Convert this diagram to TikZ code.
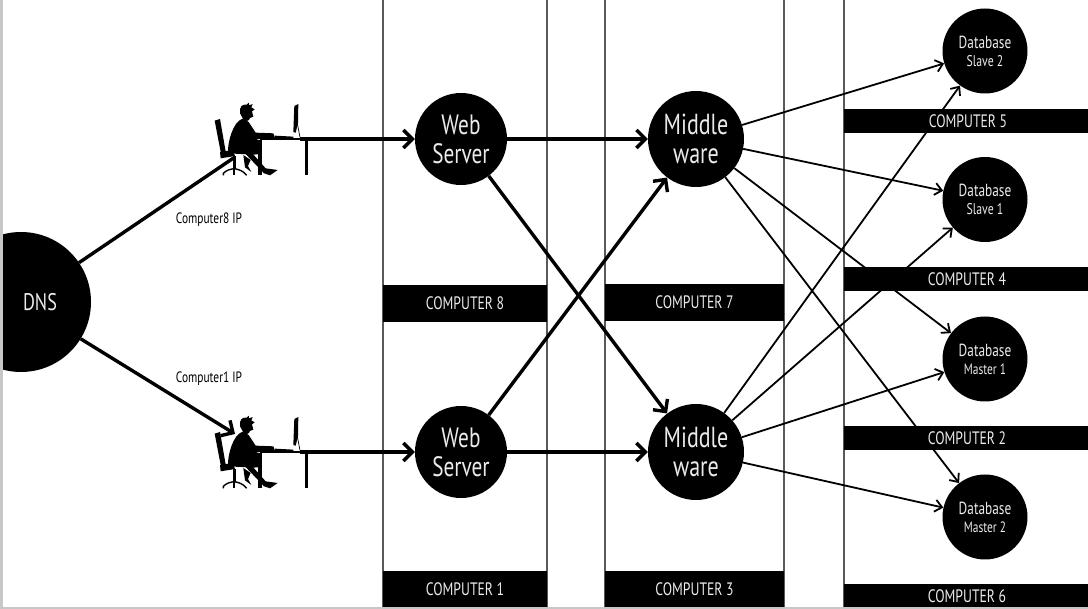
\documentclass[tikz,border=0pt]{standalone}
\usepackage{fontspec}
\setmainfont[FakeStretch=0.76]{PT Sans}
\usetikzlibrary{arrows.meta}
\definecolor{edgegray}{gray}{0.78}
\definecolor{linegray}{gray}{0.35}
\definecolor{softwhite}{gray}{0.92}
\tikzset{
  hub/.style={circle, fill=black, text=softwhite, inner sep=0pt, align=center},
  websrv/.style={hub, minimum size=92pt, font=\fontsize{28}{29}\selectfont},
  midsrv/.style={hub, minimum size=96pt, font=\fontsize{29}{29}\selectfont},
  dbsrv/.style={hub, minimum size=85pt, font=\fontsize{17.5}{18}\selectfont},
  compbar/.style={fill=black, text=softwhite, inner sep=0pt, font=\fontsize{18}{18}\selectfont},
  iplabel/.style={inner sep=0pt, font=\fontsize{15}{15}\selectfont},
  heavy/.style={line width=3.4pt, -{Straight Barb[length=9pt,width=18pt,line width=3.4pt]}},
  light/.style={line width=1.8pt, -{Straight Barb[length=7pt,width=12pt,line width=1.8pt]}},
  person/.pic={
    \begin{scope}[x=0.3333pt,y=-0.3333pt]
      % head and hair
      \fill (150,70) .. controls (148,50) and (156,42) .. (170,44) -- (176,38) -- (178,46) -- (188,42) -- (184,52) -- (194,58)
        -- (186,64) -- (190,80) -- (180,84) .. controls (178,94) and (166,96) .. (160,88) -- cycle;
      % body and arm
      \fill (158,86) -- (176,96) -- (197,128) -- (250,130) -- (256,146) -- (195,148) -- (212,152)
        -- (212,192) -- (190,194) -- (114,190) .. controls (112,160) and (128,95) .. (158,86) -- cycle;
      % legs
      \fill (205,150) -- (215,150) -- (215,255) -- (205,255) -- cycle;
      \fill (165,190) -- (187,190) -- (227,235) -- (263,240) -- (240,256) -- (222,250) -- cycle;
      \fill (160,195) -- (182,210) -- (174,228) -- (184,246) -- (165,232) -- cycle;
      % chair
      \fill (74,92) -- (90,87) -- (108,190) -- (94,196) -- cycle;
      \fill (90,186) -- (128,180) -- (135,198) -- (92,205) -- cycle;
      \fill (128,198) -- (137,198) -- (137,236) -- (128,236) -- cycle;
      \draw[line width=1.4pt] (100,256) -- (100,250) .. controls (110,240) and (120,238) .. (132,236)
        .. controls (145,238) and (160,242) .. (170,256);
      \draw[line width=1.4pt] (132,236) -- (132,256);
      % monitor and keyboard
      \fill (313,48) -- (325,42) -- (324,100) -- (317,128) -- (310,126) -- cycle;
      \draw[line width=0.7pt] (322,100) -- (330,142);
      \fill (255,137) -- (310,140) -- (310,146) -- (255,146) -- cycle;
      % desk
      \fill (210,143) -- (330,143) -- (330,151) -- (210,151) -- cycle;
      \fill (346,147) -- (355,147) -- (355,256) -- (346,256) -- cycle;
    \end{scope}
  }
}
\begin{document}
\begin{tikzpicture}[x=1pt,y=-1pt]
  \useasboundingbox (0,0) rectangle (1088,609);
  \fill[white] (0,0) rectangle (1088,609);

  % column borders
  \foreach \x in {383,547,605,784,844}
    \draw[color=linegray, line width=1.1pt] (\x,0) -- (\x,607);

  % servers
  \node[hub, minimum size=140pt] (dns) at (21,302) {};
  \node[text=softwhite, inner sep=0pt, font=\fontsize{24}{24}\selectfont] (dnstext) at (40,302) {DNS};
  \node[websrv] (web8) at (461,139) {Web\\Server};
  \node[websrv] (web1) at (461,452) {Web\\Server};
  \node[midsrv] (mid7) at (696,139) {Middle\\ware};
  \node[midsrv] (mid3) at (696,452) {Middle\\ware};
  \node[dbsrv] (slave2) at (985,51) {Database\\{\fontsize{15.5}{17}\selectfont Slave 2}};
  \node[dbsrv] (slave1) at (985,199.5) {Database\\{\fontsize{15.5}{17}\selectfont Slave 1}};
  \node[dbsrv] (master1) at (985,359) {Database\\{\fontsize{15}{17}\selectfont Master 1}};
  \node[dbsrv] (master2) at (985,517) {Database\\{\fontsize{15}{17}\selectfont Master 2}};

  % people at their desks
  \pic at (190,90) {person};
  \pic at (190,403) {person};
  \coordinate (chair8) at (235,157);
  \coordinate (chair1) at (235,434);
  \coordinate (desk8) at (300,139);
  \coordinate (desk1) at (300,452);

  % dns to people
  \draw[line width=3.4pt] (dns) -- (chair8);
  \draw[heavy] (dns) -- (chair1);
  \draw[heavy] (desk8) -- (web8);
  \draw[heavy] (desk1) -- (web1);

  % web to middleware
  \draw[heavy] (web8) -- (mid7);
  \draw[heavy] (web1) -- (mid3);
  \draw[heavy] (web8) -- (mid3);
  \draw[heavy] (web1) -- (mid7);

  % middleware to databases
  \foreach \m in {mid7,mid3}
    \foreach \d in {slave2,slave1,master1,master2}
      \draw[light] (\m) -- (\d);

  % computer bars
  \node[compbar, minimum width=164pt, minimum height=37pt] (comp8) at (465,303.5) {COMPUTER 8};
  \node[compbar, minimum width=179pt, minimum height=37pt] (comp7) at (694.5,302.5) {COMPUTER 7};
  \node[compbar, minimum width=164pt, minimum height=36pt] (comp1) at (465,589) {COMPUTER 1};
  \node[compbar, minimum width=179pt, minimum height=36pt] (comp3) at (694.5,589) {COMPUTER 3};
  \fill (844,109) rectangle (1088,133);
  \node[compbar] (comp5) at (968,121.5) {COMPUTER 5};
  \fill (844,267) rectangle (1088,291);
  \node[compbar] (comp4) at (967,279.5) {COMPUTER 4};
  \fill (844,426) rectangle (1088,450);
  \node[compbar] (comp2) at (967,438) {COMPUTER 2};
  \fill (844,584) rectangle (1088,607);
  \node[compbar] (comp6) at (967,596) {COMPUTER 6};

  % ip labels
  \node[iplabel] (ip8) at (209,220) {Computer8 IP};
  \node[iplabel] (ip1) at (209,379) {Computer1 IP};

  % window edges
  \fill[edgegray] (0,0) rectangle (3,609);
  \fill[edgegray] (0,607) rectangle (1088,609);
\end{tikzpicture}
\end{document}
